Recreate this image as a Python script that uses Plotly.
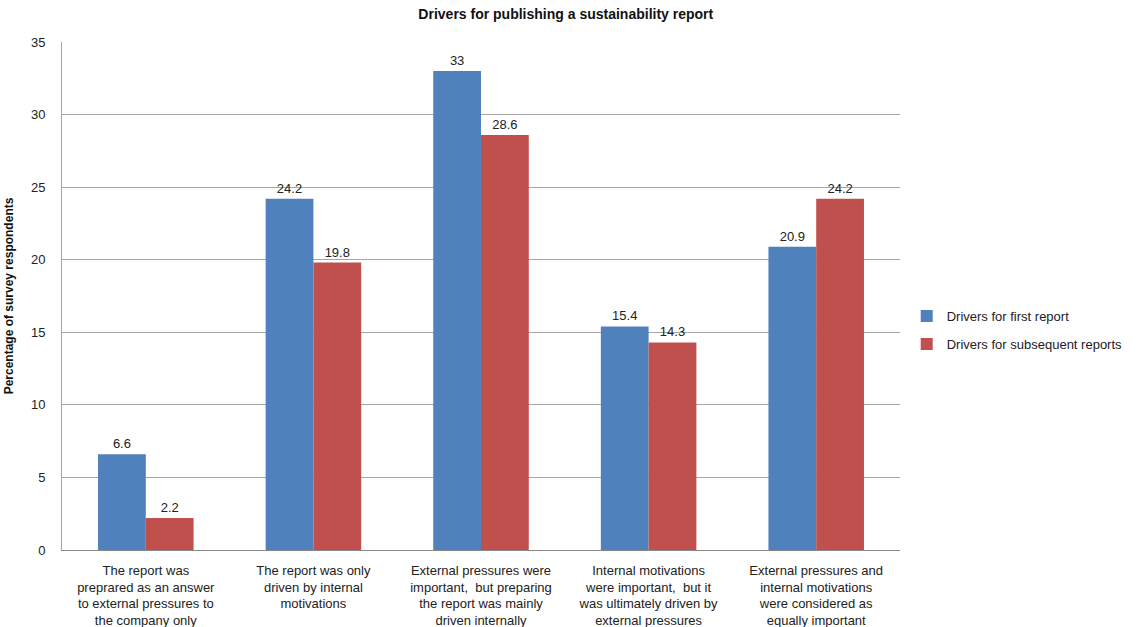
import plotly.graph_objects as go

categories = [
    "The report was<br>preprared as an answer<br>to external pressures to<br>the company only",
    "The report was only<br>driven by internal<br>motivations",
    "External pressures were<br>important,  but preparing<br>the report was mainly<br>driven internally",
    "Internal motivations<br>were important,  but it<br>was ultimately driven by<br>external pressures",
    "External pressures and<br>internal motivations<br>were considered as<br>equally important",
]
first_report = [6.6, 24.2, 33, 15.4, 20.9]
subsequent_reports = [2.2, 19.8, 28.6, 14.3, 24.2]
first_labels = ["6.6", "24.2", "33", "15.4", "20.9"]
subsequent_labels = ["2.2", "19.8", "28.6", "14.3", "24.2"]

FONT = "Liberation Sans Narrow, Arial Narrow, Liberation Sans, sans-serif"

fig = go.Figure()
fig.add_trace(go.Bar(
    x=categories, y=first_report, name="Drivers for first report",
    legendgroup="a",
    marker=dict(color="#4F81BD", line=dict(width=0)),
    text=first_labels, textposition="outside", cliponaxis=False,
    textfont=dict(size=13, color="#222222", family=FONT),
))
fig.add_trace(go.Bar(
    x=categories, y=subsequent_reports, name="Drivers for subsequent reports",
    legendgroup="b",
    marker=dict(color="#C0504D", line=dict(width=0)),
    text=subsequent_labels, textposition="outside", cliponaxis=False,
    textfont=dict(size=13, color="#222222", family=FONT),
))

fig.update_layout(
    width=1143, height=627,
    margin=dict(l=62, r=243, t=42, b=77),
    paper_bgcolor="white", plot_bgcolor="white",
    barmode="group", bargap=0.43, bargroupgap=0,
    font=dict(family=FONT, size=13, color="#222222"),
    title=dict(text="<b>Drivers for publishing a sustainability report</b>",
               x=0.495, xanchor="center", y=0.978, yanchor="middle",
               font=dict(size=14, family=FONT, color="#111111")),
    legend=dict(x=1.008, y=0.433, xanchor="left", yanchor="middle",
                font=dict(size=13, family=FONT, color="#222222"),
                tracegroupgap=8),
    xaxis=dict(showline=True, linecolor="#888888", linewidth=1,
               ticks="", automargin=False, ticklabelstandoff=8,
               tickfont=dict(size=13, family=FONT, color="#222222"),
               tickangle=0),
    yaxis=dict(range=[0, 35], dtick=5, showgrid=True, gridcolor="#A6A6A6",
               gridwidth=1, showline=True, linecolor="#A6A6A6", zeroline=False,
               ticks="", ticklabelstandoff=13, automargin=False,
               tickfont=dict(size=13, family=FONT, color="#222222"),
               title=dict(text="<b>Percentage of survey respondents</b>",
                          font=dict(size=12, family=FONT, color="#111111"),
                          standoff=14)),
)

fig.write_html("out.html")
